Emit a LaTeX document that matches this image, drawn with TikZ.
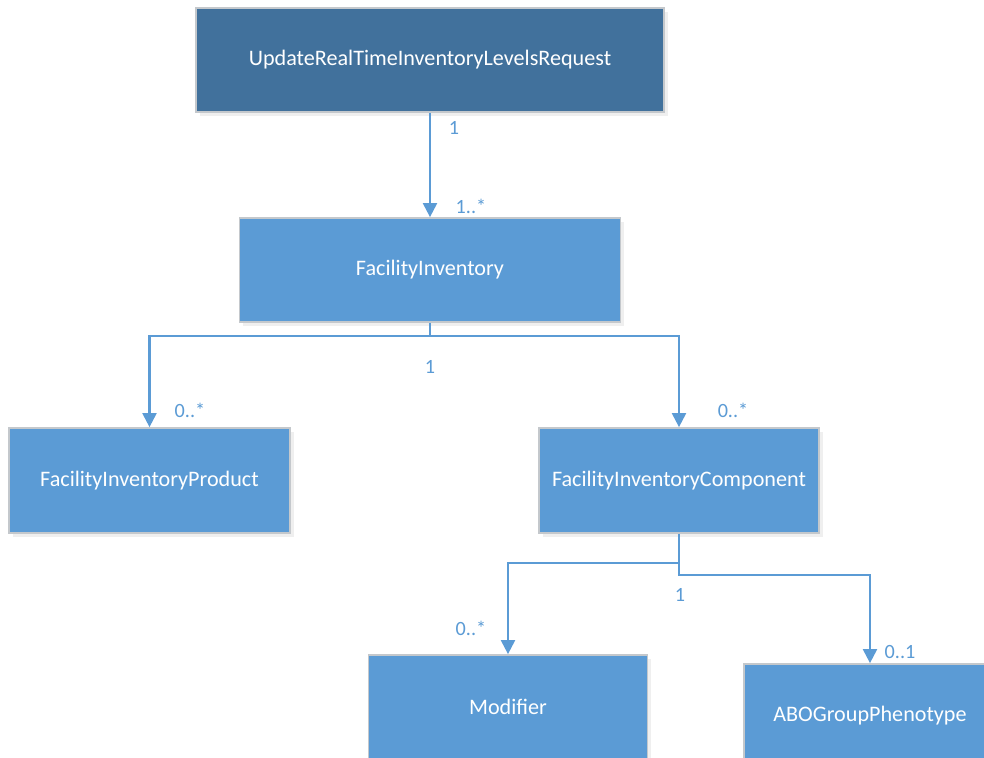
\documentclass[tikz,border=0pt]{standalone}
\usepackage{fontspec}
\setmainfont{Carlito}
\usetikzlibrary{arrows.meta,shadows}
\usetikzlibrary{positioning}
\definecolor{boxblue}{HTML}{5B9BD5}
\definecolor{rootblue}{HTML}{41719C}
\definecolor{boxedge}{HTML}{C4C8CC}
\tikzstyle{class} = [rectangle, fill=boxblue, draw=boxedge, line width=1pt, text=white, text centered, font=\fontsize{12.6}{14}\selectfont, drop shadow={opacity=0.12, shadow xshift=2pt, shadow yshift=-2pt}]
\tikzstyle{root} = [class, fill=rootblue]
\tikzstyle{assoc} = [draw=boxblue, line width=1.2pt, -{Triangle[width=8pt,length=8pt]}]
\tikzstyle{mult} = [text=boxblue, font=\fontsize{11.5}{13}\selectfont]

\begin{document}
\begin{tikzpicture}
 \clip (0,0) rectangle (19.68,-15.14);
 \fill[white] (0,0) rectangle (19.68,-15.14);

   \node (req) [root, minimum width=9.36cm, minimum height=2.08cm] at (8.6,-1.2) {UpdateRealTimeInventoryLevelsRequest};
   \node (fi) [class, minimum width=7.62cm, minimum height=2.08cm] at (8.6,-5.4) {FacilityInventory};
   \node (prod) [class, minimum width=5.62cm, minimum height=2.1cm] at (2.99,-9.61) {FacilityInventoryProduct};
   \node (comp) [class, minimum width=5.6cm, minimum height=2.1cm] at (13.58,-9.61) {FacilityInventoryComponent};
   \node (mod) [class, minimum width=5.58cm, minimum height=2.08cm] at (10.16,-14.14) {Modifier};
   \node (abo) [class, minimum width=5.04cm, minimum height=2.08cm] at (17.4,-14.32) {ABOGroupPhenotype};

   % associations
   \draw[assoc] (req.south) -- (fi.north);
   \draw[assoc] (fi.south) -- ++(0,-0.26) -| (prod.north);
   \draw[assoc] (fi.south) -- ++(0,-0.26) -| (comp.north);
   \draw[assoc] (comp.south) -- ++(0,-0.58) -| (mod.north);
   \draw[assoc] (comp.south) -- ++(0,-0.82) -| (abo.north);

   % multiplicities
   \node (m1) [mult] at (9.08,-2.56) {1};
   \node (m2) [mult] at (9.42,-4.12) {1..*};
   \node (m3) [mult] at (8.6,-7.34) {1};
   \node (m4) [mult] at (3.8,-8.2) {0..*};
   \node (m5) [mult] at (14.66,-8.2) {0..*};
   \node (m6) [mult] at (13.6,-11.9) {1};
   \node (m7) [mult] at (9.42,-12.56) {0..*};
   \node (m8) [mult] at (18.0,-13.04) {0..1};
\end{tikzpicture}
\end{document}
